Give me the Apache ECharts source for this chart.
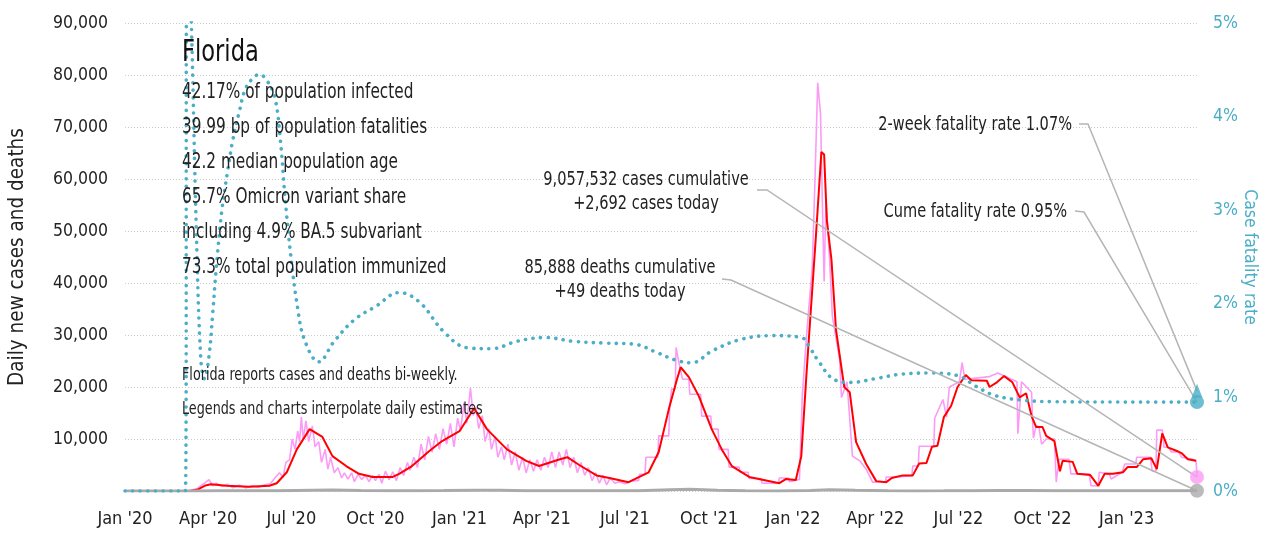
<!DOCTYPE html>
<html>
<head>
<meta charset="utf-8">
<script src="https://cdn.jsdelivr.net/npm/echarts@6/dist/echarts.min.js"></script>
<style>
    html, body { margin: 0; padding: 0; background: #fff; }
    #florida-chart-box { width: 1269px; height: 534px; }
</style>
</head>
<body>
<div id="florida-chart-box"></div>
<script>
// x axis ticks (quarters)
const xTickDates = ['2020-01-01', '2020-04-01', '2020-07-01', '2020-10-01', '2021-01-01', '2021-04-01', '2021-07-01',
    '2021-10-01', '2022-01-01', '2022-04-01', '2022-07-01', '2022-10-01', '2023-01-01'];
const xTickLabels = ["Jan '20", "Apr '20", "Jul '20", "Oct '20", "Jan '21", "Apr '21", "Jul '21",
    "Oct '21", "Jan '22", "Apr '22", "Jul '22", "Oct '22", "Jan '23"];
const firstDate = '2020-01-01';
const lastDate = '2023-03-19';

// daily reported cases (pink)
const dailyCases = [
    ['2020-01-01', 0], ['2020-03-10', 0], ['2020-03-20', 500], ['2020-03-28', 1500], ['2020-04-02', 2200], ['2020-04-06', 1000],
    ['2020-04-10', 1500], ['2020-04-16', 900], ['2020-04-22', 1300], ['2020-04-28', 600], ['2020-05-05', 1100], ['2020-05-12', 600],
    ['2020-05-19', 1000], ['2020-05-26', 700], ['2020-06-02', 1200], ['2020-06-08', 1400], ['2020-06-13', 2500], ['2020-06-18', 3500],
    ['2020-06-22', 2600], ['2020-06-25', 5500], ['2020-06-29', 6000], ['2020-07-02', 10000], ['2020-07-05', 8000], ['2020-07-08', 11500],
    ['2020-07-10', 9500], ['2020-07-12', 14200], ['2020-07-14', 10000], ['2020-07-17', 13500], ['2020-07-20', 9500], ['2020-07-24', 12500],
    ['2020-07-27', 8500], ['2020-07-31', 9500], ['2020-08-03', 5500], ['2020-08-07', 8000], ['2020-08-10', 4200], ['2020-08-13', 6500],
    ['2020-08-17', 3500], ['2020-08-21', 4500], ['2020-08-25', 2500], ['2020-08-28', 3500], ['2020-09-01', 2300], ['2020-09-05', 3500],
    ['2020-09-08', 1800], ['2020-09-12', 3200], ['2020-09-16', 2200], ['2020-09-20', 3000], ['2020-09-24', 1800], ['2020-09-28', 3000],
    ['2020-10-01', 2000], ['2020-10-05', 3200], ['2020-10-08', 1500], ['2020-10-12', 3800], ['2020-10-16', 2200], ['2020-10-20', 3700],
    ['2020-10-24', 2000], ['2020-10-28', 4500], ['2020-11-01', 3000], ['2020-11-05', 5500], ['2020-11-08', 4000], ['2020-11-12', 6500],
    ['2020-11-16', 4500], ['2020-11-20', 9000], ['2020-11-24', 6000], ['2020-11-28', 10500], ['2020-12-02', 7500], ['2020-12-06', 11000],
    ['2020-12-10', 8000], ['2020-12-14', 12000], ['2020-12-18', 9000], ['2020-12-22', 13000], ['2020-12-26', 8500], ['2020-12-30', 14000],
    ['2021-01-02', 11500], ['2021-01-06', 17000], ['2021-01-09', 13000], ['2021-01-13', 19800], ['2021-01-16', 14500], ['2021-01-19', 16000],
    ['2021-01-22', 12000], ['2021-01-26', 14500], ['2021-01-29', 9500], ['2021-02-02', 12000], ['2021-02-05', 8000], ['2021-02-09', 10500],
    ['2021-02-12', 6500], ['2021-02-16', 8500], ['2021-02-19', 6000], ['2021-02-23', 9000], ['2021-02-27', 5000], ['2021-03-03', 7500],
    ['2021-03-07', 4000], ['2021-03-11', 6500], ['2021-03-15', 3500], ['2021-03-19', 6000], ['2021-03-23', 3800], ['2021-03-27', 6000],
    ['2021-03-31', 4000], ['2021-04-04', 6500], ['2021-04-08', 4500], ['2021-04-12', 7500], ['2021-04-16', 4500], ['2021-04-20', 7500],
    ['2021-04-24', 5000], ['2021-04-28', 8000], ['2021-05-02', 4500], ['2021-05-06', 6500], ['2021-05-10', 3500], ['2021-05-14', 5500],
    ['2021-05-18', 3000], ['2021-05-22', 4500], ['2021-05-26', 2000], ['2021-05-30', 3500], ['2021-06-03', 1500], ['2021-06-07', 3000],
    ['2021-06-11', 1200], ['2021-06-15', 2500], ['2021-06-20', 1500], ['2021-06-25', 1800], ['2021-07-01', 1400], ['2021-07-10', 2000],
    ['2021-07-16', 2000], ['2021-07-17', 3200], ['2021-07-23', 3200], ['2021-07-24', 6500], ['2021-08-06', 6500], ['2021-08-07', 10600],
    ['2021-08-18', 10600], ['2021-08-19', 16000], ['2021-08-21', 19600], ['2021-08-25', 19600], ['2021-08-26', 27600], ['2021-08-29', 24800],
    ['2021-09-02', 21500], ['2021-09-09', 21500], ['2021-09-10', 18600], ['2021-09-22', 18600], ['2021-09-23', 14400], ['2021-10-03', 14400],
    ['2021-10-04', 11900], ['2021-10-11', 11900], ['2021-10-12', 8000], ['2021-10-22', 8000], ['2021-10-23', 4600], ['2021-11-03', 4600],
    ['2021-11-04', 3600], ['2021-11-13', 3600], ['2021-11-14', 2400], ['2021-11-27', 2400], ['2021-11-28', 1500], ['2021-12-16', 1500],
    ['2021-12-17', 2500], ['2021-12-27', 2500], ['2021-12-28', 1800], ['2022-01-08', 2200], ['2022-01-11', 18000], ['2022-01-16', 30500],
    ['2022-01-22', 43000], ['2022-01-25', 60000], ['2022-01-28', 78500], ['2022-01-31', 72700], ['2022-02-02', 56000], ['2022-02-04', 40300],
    ['2022-02-06', 56000], ['2022-02-10', 44500], ['2022-02-13', 33600], ['2022-02-21', 25300], ['2022-02-23', 18000], ['2022-03-01', 21000],
    ['2022-03-07', 6700], ['2022-03-15', 5800], ['2022-03-22', 4200], ['2022-03-29', 1700], ['2022-04-12', 1700], ['2022-04-13', 2700],
    ['2022-04-27', 2700], ['2022-04-28', 3000], ['2022-05-11', 3000], ['2022-05-12', 4800], ['2022-05-18', 4800], ['2022-05-19', 8600],
    ['2022-06-04', 8600], ['2022-06-05', 14000], ['2022-06-14', 17600], ['2022-06-18', 14200], ['2022-06-21', 20000], ['2022-07-02', 21000],
    ['2022-07-05', 24700], ['2022-07-08', 21500], ['2022-08-04', 22000], ['2022-08-13', 22700], ['2022-09-03', 21000], ['2022-09-04', 11000],
    ['2022-09-08', 21000], ['2022-09-19', 19000], ['2022-09-20', 13800], ['2022-09-21', 10200], ['2022-09-24', 12600], ['2022-09-27', 12300],
    ['2022-09-30', 9000], ['2022-10-05', 10000], ['2022-10-14', 10000], ['2022-10-16', 1700], ['2022-10-19', 6100], ['2022-10-30', 6100],
    ['2022-11-01', 3300], ['2022-11-21', 3300], ['2022-11-23', 1000], ['2022-12-01', 1000], ['2022-12-02', 3600], ['2022-12-13', 3300],
    ['2022-12-15', 2300], ['2022-12-27', 3600], ['2022-12-30', 5200], ['2023-01-11', 5200], ['2023-01-12', 6500], ['2023-01-27', 6500],
    ['2023-01-29', 3800], ['2023-02-02', 3800], ['2023-02-03', 11700], ['2023-02-09', 11700], ['2023-02-11', 8400], ['2023-02-16', 8400],
    ['2023-02-19', 7500], ['2023-02-27', 7500], ['2023-03-02', 6500], ['2023-03-14', 6100], ['2023-03-18', 5800], ['2023-03-19', 2692]
];

// 7-day average cases (red)
const avgCases = [
    ['2020-01-01', 0], ['2020-03-12', 0], ['2020-03-21', 300], ['2020-03-28', 1000], ['2020-04-04', 1300], ['2020-04-21', 1000],
    ['2020-05-16', 800], ['2020-06-07', 1000], ['2020-06-15', 1500], ['2020-06-26', 3600], ['2020-07-07', 8000], ['2020-07-21', 11900],
    ['2020-08-04', 10400], ['2020-08-15', 6700], ['2020-08-30', 4800], ['2020-09-13', 3300], ['2020-09-28', 2700], ['2020-10-20', 2700],
    ['2020-10-27', 3300], ['2020-11-10', 4800], ['2020-11-29', 7700], ['2020-12-13', 9600], ['2021-01-01', 11500], ['2021-01-17', 15900],
    ['2021-01-31', 11900], ['2021-02-22', 8000], ['2021-03-15', 5800], ['2021-03-29', 4800], ['2021-04-21', 6100], ['2021-04-29', 6500],
    ['2021-05-12', 5000], ['2021-05-31', 3000], ['2021-06-14', 2500], ['2021-07-05', 1700], ['2021-07-27', 3600], ['2021-08-07', 7500],
    ['2021-08-18', 15700], ['2021-08-27', 21500], ['2021-08-31', 23800], ['2021-09-09', 21900], ['2021-09-20', 18200], ['2021-10-04', 11900],
    ['2021-10-15', 8000], ['2021-10-26', 4800], ['2021-11-14', 2700], ['2021-12-17', 1500], ['2021-12-24', 2300], ['2022-01-04', 2100],
    ['2022-01-10', 6700], ['2022-01-16', 23400], ['2022-01-26', 49000], ['2022-02-01', 65200], ['2022-02-04', 64700], ['2022-02-07', 52000],
    ['2022-02-12', 44500], ['2022-02-17', 31000], ['2022-02-26', 20000], ['2022-03-04', 19000], ['2022-03-11', 9400], ['2022-03-22', 5200],
    ['2022-04-02', 1900], ['2022-04-13', 1700], ['2022-04-19', 2500], ['2022-05-01', 3000], ['2022-05-12', 3000], ['2022-05-19', 5300],
    ['2022-05-27', 5400], ['2022-06-02', 8500], ['2022-06-08', 8700], ['2022-06-15', 14200], ['2022-06-23', 16400], ['2022-06-30', 20000],
    ['2022-07-09', 22300], ['2022-07-15', 21300], ['2022-08-01', 21200], ['2022-08-04', 20000], ['2022-08-12', 20900], ['2022-08-20', 22100],
    ['2022-08-29', 20900], ['2022-09-06', 18000], ['2022-09-13', 18800], ['2022-09-19', 14400], ['2022-09-24', 12300], ['2022-10-01', 12300],
    ['2022-10-05', 10600], ['2022-10-14', 9600], ['2022-10-20', 3800], ['2022-10-23', 5800], ['2022-11-03', 5600], ['2022-11-08', 3300],
    ['2022-11-22', 3100], ['2022-12-01', 1000], ['2022-12-08', 3300], ['2022-12-17', 3300], ['2022-12-28', 3600], ['2023-01-02', 4600],
    ['2023-01-12', 4600], ['2023-01-19', 6100], ['2023-01-28', 6300], ['2023-02-03', 4200], ['2023-02-09', 11100], ['2023-02-15', 8400],
    ['2023-02-25', 7700], ['2023-03-02', 7300], ['2023-03-09', 6100], ['2023-03-18', 5800]
];

// daily deaths (grey, near zero)
const dailyDeaths = [
    ['2020-01-01', 0], ['2020-03-15', 0], ['2020-04-15', 50], ['2020-05-15', 40], ['2020-06-15', 35], ['2020-07-25', 150],
    ['2020-08-15', 180], ['2020-09-15', 100], ['2020-10-15', 60], ['2020-11-15', 60], ['2020-12-15', 90], ['2021-01-20', 160],
    ['2021-02-15', 130], ['2021-03-15', 70], ['2021-04-15', 50], ['2021-05-15', 50], ['2021-06-15', 40], ['2021-07-15', 50],
    ['2021-08-20', 250], ['2021-09-10', 350], ['2021-10-10', 150], ['2021-11-10', 40], ['2021-12-15', 20], ['2022-01-20', 80],
    ['2022-02-10', 250], ['2022-03-10', 150], ['2022-04-15', 40], ['2022-05-15', 20], ['2022-06-15', 30], ['2022-07-15', 60],
    ['2022-08-15', 90], ['2022-09-15', 100], ['2022-10-15', 70], ['2022-11-15', 40], ['2022-12-15', 50], ['2023-01-15', 60],
    ['2023-02-15', 60], ['2023-03-19', 49]
];

// case fatality rate, % (teal dotted, right axis)
const fatalityRate = [
    ['2020-01-01', 0], ['2020-03-07', 0], ['2020-03-09', 6], ['2020-03-13', 5.2], ['2020-03-19', 2.8], ['2020-03-24', 1.4],
    ['2020-03-28', 1.2], ['2020-04-02', 1.45], ['2020-04-06', 1.9], ['2020-04-10', 2.4], ['2020-04-16', 3.0], ['2020-04-22', 3.4],
    ['2020-04-28', 3.75], ['2020-05-05', 4.05], ['2020-05-12', 4.3], ['2020-05-21', 4.42], ['2020-05-27', 4.45], ['2020-06-04', 4.39],
    ['2020-06-13', 4.2], ['2020-06-19', 3.75], ['2020-06-24', 3.15], ['2020-06-30', 2.55], ['2020-07-08', 1.95], ['2020-07-16', 1.6],
    ['2020-07-31', 1.38], ['2020-08-17', 1.6], ['2020-09-08', 1.83], ['2020-10-01', 1.97], ['2020-10-27', 2.12], ['2020-11-18', 2.02],
    ['2020-12-15', 1.7], ['2021-01-10', 1.53], ['2021-02-05', 1.52], ['2021-03-05', 1.6], ['2021-04-05', 1.64], ['2021-05-05', 1.6],
    ['2021-06-10', 1.58], ['2021-07-10', 1.57], ['2021-08-05', 1.48], ['2021-08-25', 1.4], ['2021-09-12', 1.37], ['2021-10-05', 1.5],
    ['2021-11-05', 1.62], ['2021-12-10', 1.66], ['2022-01-10', 1.64], ['2022-01-20', 1.52], ['2022-01-28', 1.4], ['2022-02-15', 1.19],
    ['2022-03-05', 1.16], ['2022-04-01', 1.2], ['2022-05-01', 1.25], ['2022-06-01', 1.26], ['2022-07-01', 1.23], ['2022-07-20', 1.12],
    ['2022-08-10', 1.02], ['2022-09-10', 0.97], ['2022-10-10', 0.955], ['2023-01-15', 0.95], ['2023-03-19', 0.95]
];

// latest figures for the end markers and callouts
const casesToday = 2692;
const deathsToday = 49;
const cumeRate = 0.95;
const twoWeekRate = 1.07;

const statLines = [
    '42.17% of population infected',
    '39.99 bp of population fatalities',
    '42.2 median population age',
    '65.7% Omicron variant share',
    'including 4.9% BA.5 subvariant',
    '73.3% total population immunized'
];
const noteLines = [
    'Florida reports cases and deaths bi-weekly.',
    'Legends and charts interpolate daily estimates'
];

floridaChart();

function floridaChart() {
    var chartDom = document.getElementById('florida-chart-box');
    var myChart = echarts.init(chartDom);
    var option;

    const FONT = "'DejaVu Sans Condensed', 'DejaVu Sans', sans-serif";
    const TEAL = '#4aaec6';
    const NARROW = 0.81; // squeeze annotation text, the original uses a condensed face
    // dates -> timestamps for a plain value axis
    const t = (d) => echarts.time.parse(d).getTime();
    const toXY = (arr) => arr.map(p => [t(p[0]), p[1]]);
    const tickTimes = xTickDates.map(t);
    const lastTime = t(lastDate);

    option = {
        animation: false,
        textStyle: { fontFamily: FONT },
        grid: { left: 125, right: 72, top: 23, bottom: 43, outerBoundsMode: 'none' },
        xAxis: {
            type: 'value',
            min: t(firstDate),
            max: lastTime,
            axisLine: { show: false },
            axisTick: { show: false },
            splitLine: { show: false },
            axisLabel: {
                customValues: tickTimes,
                color: '#222',
                fontSize: 18,
                margin: 19,
                fontFamily: FONT,
                formatter: function (value) {
                    const i = tickTimes.indexOf(value);
                    return i >= 0 ? xTickLabels[i] : '';
                }
            }
        },
        yAxis: [
            {
                type: 'value',
                min: 0,
                max: 90000,
                interval: 10000,
                name: 'Daily new cases and deaths',
                nameLocation: 'middle',
                nameGap: 97,
                nameTextStyle: { color: '#222', fontSize: 20.5, fontFamily: FONT },
                axisLine: { show: false },
                axisTick: { show: false },
                axisLabel: {
                    color: '#222',
                    fontSize: 17.5,
                    margin: 17,
                    fontFamily: FONT,
                    formatter: function (v) {
                        return v === 0 ? '' : v.toLocaleString('en-US');
                    }
                },
                splitLine: {
                    lineStyle: { color: '#cccccc', type: [1, 2], width: 1 }
                }
            },
            {
                type: 'value',
                min: 0,
                max: 5,
                interval: 1,
                position: 'right',
                name: 'Case fatality rate',
                nameLocation: 'middle',
                nameRotate: -90,
                nameGap: 44,
                nameMoveOverlap: false,
                nameTextStyle: { color: TEAL, fontSize: 17.5, fontFamily: FONT },
                axisLine: { show: false },
                axisTick: { show: false },
                splitLine: { show: false },
                axisLabel: {
                    color: TEAL,
                    fontSize: 17.5,
                    margin: 16,
                    fontFamily: FONT,
                    formatter: '{value}%'
                }
            }
        ],
        series: [
            {
                name: 'Daily cases',
                type: 'line',
                data: toXY(dailyCases),
                showSymbol: false,
                lineStyle: { color: '#fb9bf5', width: 1.6 },
                z: 2
            },
            {
                name: '7-day average',
                type: 'line',
                data: toXY(avgCases),
                showSymbol: false,
                lineStyle: { color: '#ff0000', width: 2 },
                z: 3
            },
            {
                name: 'Daily deaths',
                type: 'line',
                data: toXY(dailyDeaths),
                showSymbol: false,
                lineStyle: { color: '#aaaaaa', width: 3 },
                z: 3
            },
            {
                name: 'Case fatality rate',
                type: 'line',
                yAxisIndex: 1,
                data: toXY(fatalityRate),
                smooth: 0.4,
                showSymbol: false,
                lineStyle: { color: TEAL, width: 3.6, type: [0.1, 7.5], cap: 'round' },
                z: 4
            },
            {
                // end markers
                type: 'scatter',
                data: [[lastTime, casesToday]],
                symbolSize: 14,
                itemStyle: { color: '#fb9bf5' },
                z: 6
            },
            {
                type: 'scatter',
                data: [[lastTime, deathsToday]],
                symbolSize: 14,
                itemStyle: { color: '#aaaaaa' },
                z: 6
            },
            {
                type: 'scatter',
                yAxisIndex: 1,
                data: [[lastTime, twoWeekRate]],
                symbol: 'triangle',
                symbolSize: [11, 14],
                itemStyle: { color: TEAL },
                z: 6
            },
            {
                type: 'scatter',
                yAxisIndex: 1,
                data: [[lastTime, cumeRate]],
                symbolSize: 14,
                itemStyle: { color: TEAL },
                z: 6
            }
        ]
    };

    option && myChart.setOption(option);

    // text block and callouts
    const toPx = (axis, value) => myChart.convertToPixel({ xAxisIndex: 0, yAxisIndex: axis }, [lastTime, value]);
    const callout = (pts) => ({
        type: 'polyline',
        shape: { points: pts },
        style: { stroke: '#b5b5b5', lineWidth: 1.5, fill: null },
        z: 5
    });
    const txt = (x, y, text, size, align, extra) => ({
        type: 'text',
        x: x,
        y: y,
        scaleX: NARROW,
        style: Object.assign({
            text: text,
            fontSize: size,
            fontFamily: FONT,
            fill: '#222',
            align: align,
            verticalAlign: 'middle'
        }, extra || {}),
        z: 7
    });

    const elements = [];
    elements.push(txt(182, 53, 'Florida', 31, 'left', { fill: '#111' }));
    statLines.forEach((s, i) => elements.push(txt(182, 93 + i * 35, s, 21, 'left')));
    noteLines.forEach((s, i) => elements.push(txt(182, 375 + i * 34, s, 17.5, 'left')));

    elements.push(txt(646, 192, '9,057,532 cases cumulative\n+2,692 cases today', 20, 'center', { lineHeight: 24 }));
    elements.push(txt(620, 280, '85,888 deaths cumulative\n+49 deaths today', 20, 'center', { lineHeight: 24 }));
    elements.push(txt(1072, 125, '2-week fatality rate 1.07%', 20, 'right'));
    elements.push(txt(1067, 212, 'Cume fatality rate 0.95%', 20, 'right'));

    elements.push(callout([[757, 190], [767, 190], toPx(0, casesToday)]));
    elements.push(callout([[722, 279], [731, 280], toPx(0, deathsToday)]));
    elements.push(callout([[1079, 124], [1088, 124], toPx(1, twoWeekRate)]));
    elements.push(callout([[1075, 211], [1084, 212], toPx(1, cumeRate)]));

    myChart.setOption({ graphic: { elements: elements } });
}
</script>
</body>
</html>
